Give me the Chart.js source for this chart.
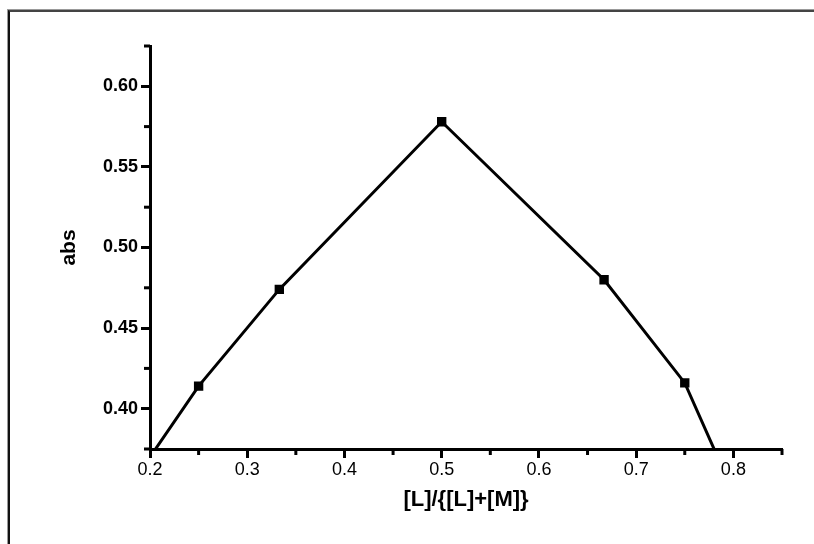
<!DOCTYPE html>
<html>
<head>
<meta charset="utf-8">
<script src="https://cdn.jsdelivr.net/npm/chart.js@4.4.1/dist/chart.umd.min.js"></script>
<style>
    body { margin: 0; background: #fff; }
    #wrap { position: relative; width: 814px; height: 544px; overflow: hidden; }
    #frame {
        position: absolute; left: 8px; top: 10px; width: 900px; height: 700px;
        border-left: 2px solid #111; border-top: 2px solid #444;
        box-shadow: -1px -1px 0 #999;
    }
    canvas { position: absolute; left: 0; top: 0; }
</style>
</head>
<body>
<div id="wrap">
    <div id="frame"></div>
    <canvas id="jobChart" width="814" height="544"></canvas>
</div>
<script>
// mole fraction vs absorbance (Job's plot)
const fractions = [0.2, 0.25, 0.333, 0.5, 0.667, 0.75, 0.8];
const absValues = [0.370, 0.414, 0.474, 0.578, 0.480, 0.416, 0.348];

const xMajorTicks = [0.2, 0.3, 0.4, 0.5, 0.6, 0.7, 0.8];
const xMinorTicks = [0.25, 0.35, 0.45, 0.55, 0.65, 0.75, 0.85];
const yMajorTicks = [0.40, 0.45, 0.50, 0.55, 0.60];
const yMinorTicks = [0.375, 0.425, 0.475, 0.525, 0.575, 0.625];

const xRange = [0.2, 0.85];
const yRange = [0.375, 0.625];

const minorTicks = {
    id: "minorTicks",
    afterDraw(chart) {
        const { ctx, chartArea, scales } = chart;
        ctx.save();
        ctx.strokeStyle = "#000";
        ctx.lineWidth = 3;
        xMinorTicks.forEach(v => {
            const px = scales.x.getPixelForValue(v);
            ctx.beginPath();
            ctx.moveTo(px, chartArea.bottom);
            ctx.lineTo(px, chartArea.bottom + 6);
            ctx.stroke();
        });
        yMinorTicks.forEach(v => {
            const py = scales.y.getPixelForValue(v);
            ctx.beginPath();
            ctx.moveTo(chartArea.left, py);
            ctx.lineTo(chartArea.left - 6, py);
            ctx.stroke();
        });
        ctx.restore();
    }
};

new Chart(document.getElementById("jobChart"), {
    type: "line",
    data: {
        datasets: [{
            data: fractions.map((f, i) => ({ x: f, y: absValues[i] })),
            borderColor: "#000",
            backgroundColor: "#000",
            borderWidth: 3,
            pointStyle: "rect",
            pointRadius: 4.5,
            pointHoverRadius: 4.5,
            tension: 0,
            clip: 0
        }]
    },
    options: {
        responsive: false,
        animation: false,
        events: [],
        layout: { padding: { top: 46, right: 32, left: 0, bottom: 0 } },
        plugins: { legend: { display: false }, tooltip: { enabled: false } },
        scales: {
            x: {
                type: "linear",
                min: xRange[0],
                max: xRange[1],
                afterBuildTicks: s => { s.ticks = xMajorTicks.map(v => ({ value: v })); },
                afterFit: s => { s.height = 95; },
                border: { color: "#000", width: 3 },
                grid: { drawOnChartArea: false, tickLength: 9, tickWidth: 3, tickColor: "#000" },
                ticks: {
                    color: "#000",
                    padding: 1,
                    font: { family: "Liberation Sans", size: 18 },
                    callback: v => v.toFixed(1)
                },
                title: {
                    display: true,
                    text: "[L]/{[L]+[M]}",
                    color: "#000",
                    font: { family: "Liberation Sans", size: 22, weight: "bold" },
                    padding: { top: 8, bottom: 31 }
                }
            },
            y: {
                min: yRange[0],
                max: yRange[1],
                afterBuildTicks: s => { s.ticks = yMajorTicks.map(v => ({ value: v })); },
                afterFit: s => { s.width = 150; },
                border: { color: "#000", width: 3 },
                grid: { drawOnChartArea: false, tickLength: 9, tickWidth: 3, tickColor: "#000" },
                ticks: {
                    color: "#000",
                    padding: 3,
                    font: { family: "Liberation Sans", size: 18, weight: "bold" },
                    callback: v => v.toFixed(2)
                },
                title: {
                    display: true,
                    text: "abs",
                    color: "#000",
                    font: { family: "Liberation Sans", size: 21, weight: "bold" },
                    padding: { bottom: 0, top: 57 }
                }
            }
        }
    },
    plugins: [minorTicks]
});
</script>
</body>
</html>
